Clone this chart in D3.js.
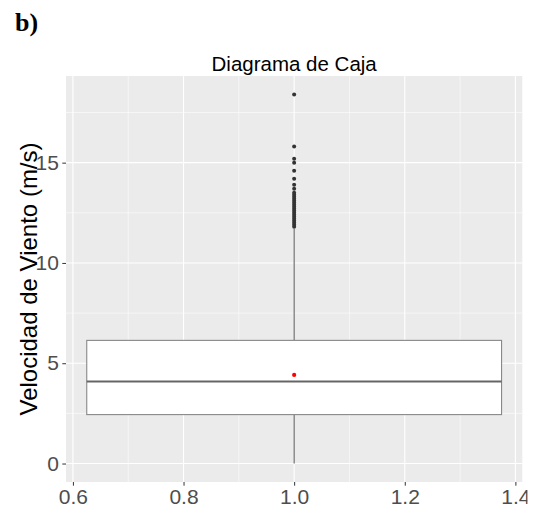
<!DOCTYPE html>
<html><head><meta charset="utf-8">
<script src="https://cdn.jsdelivr.net/npm/d3@7"></script>
<style>body{margin:0;background:#fff}svg{display:block}</style>
</head><body>
<script>
// Data
const stats = {q1: 2.44, median: 4.09, q3: 6.14, whiskerLow: 0.0, whiskerHigh: 11.7, mean: 4.42};
const outliers = [18.4, 15.8, 15.2, 15.0, 14.6, 14.2, 13.9, 13.7, 13.5, 13.4, 13.3, 13.2, 13.1, 13.0, 12.9, 12.8, 12.7, 12.6, 12.5, 12.4, 12.3, 12.2, 12.1, 12.0, 11.9, 11.8];
const xCenter = 1.0, boxWidth = 0.75;
const xTicks = [0.6, 0.8, 1.0, 1.2, 1.4];
const xMinor = [0.7, 0.9, 1.1, 1.3];
const yTicks = [0, 5, 10, 15];
const yMinor = [2.5, 7.5, 12.5, 17.5];
const titleText = "Diagrama de Caja";
const yLabel = "Velocidad de Viento (m/s)";
const panelLabel = "b)";

const W = 539, H = 508;
const P = {left: 66, right: 522.3, top: 76, bottom: 482};
const svg = d3.select("body").append("svg").attr("width", W).attr("height", H);

const xlo = xCenter - boxWidth/2, xhi = xCenter + boxWidth/2;
const xpad = (xhi - xlo) * 0.05;
const x = d3.scaleLinear().domain([xlo - xpad, xhi + xpad]).range([P.left, P.right]);
const ymax = d3.max(outliers), ymin = stats.whiskerLow;
const ypad = (ymax - ymin) * 0.05;
const y = d3.scaleLinear().domain([ymin - ypad, ymax + ypad]).range([P.bottom, P.top]);

// Panel
svg.append("rect").attr("x", P.left).attr("y", P.top)
  .attr("width", P.right - P.left).attr("height", P.bottom - P.top).attr("fill", "#EBEBEB");
const g = svg.append("g");
g.selectAll(".xm").data(xMinor).join("line")
  .attr("x1", d => x(d)).attr("x2", d => x(d)).attr("y1", P.top).attr("y2", P.bottom)
  .attr("stroke", "#fff").attr("stroke-width", 0.55);
g.selectAll(".ym").data(yMinor).join("line")
  .attr("y1", d => y(d)).attr("y2", d => y(d)).attr("x1", P.left).attr("x2", P.right)
  .attr("stroke", "#fff").attr("stroke-width", 0.55);
g.selectAll(".xM").data(xTicks).join("line")
  .attr("x1", d => x(d)).attr("x2", d => x(d)).attr("y1", P.top).attr("y2", P.bottom)
  .attr("stroke", "#fff").attr("stroke-width", 1.1);
g.selectAll(".yM").data(yTicks).join("line")
  .attr("y1", d => y(d)).attr("y2", d => y(d)).attr("x1", P.left).attr("x2", P.right)
  .attr("stroke", "#fff").attr("stroke-width", 1.1);

// Whiskers
g.append("line").attr("x1", x(xCenter)).attr("x2", x(xCenter))
  .attr("y1", y(stats.q3)).attr("y2", y(stats.whiskerHigh)).attr("stroke", "#555").attr("stroke-width", 1);
g.append("line").attr("x1", x(xCenter)).attr("x2", x(xCenter))
  .attr("y1", y(stats.q1)).attr("y2", y(stats.whiskerLow)).attr("stroke", "#555").attr("stroke-width", 1);
// Box
g.append("rect").attr("x", x(xlo)).attr("y", y(stats.q3))
  .attr("width", x(xhi) - x(xlo)).attr("height", y(stats.q1) - y(stats.q3))
  .attr("fill", "#fff").attr("stroke", "#888").attr("stroke-width", 1.1);
g.append("line").attr("x1", x(xlo)).attr("x2", x(xhi))
  .attr("y1", y(stats.median)).attr("y2", y(stats.median)).attr("stroke", "#666").attr("stroke-width", 2);
// Outliers
g.selectAll(".out").data(outliers).join("circle")
  .attr("cx", x(xCenter)).attr("cy", d => y(d)).attr("r", 2).attr("fill", "#333");
// Mean
g.append("circle").attr("cx", x(xCenter)).attr("cy", y(stats.mean)).attr("r", 2.1).attr("fill", "#ff0000");

// Axes
const font = "'Liberation Sans', Arial, sans-serif";
const xAxis = svg.append("g").attr("transform", `translate(0,${P.bottom})`)
  .call(d3.axisBottom(x).tickValues(xTicks).tickFormat(d3.format(".1f")).tickSize(3.7).tickPadding(3.5));
const yAxis = svg.append("g").attr("transform", `translate(${P.left},0)`)
  .call(d3.axisLeft(y).tickValues(yTicks).tickFormat(d3.format("d")).tickSize(3.7).tickPadding(3.5));
[xAxis, yAxis].forEach(a => {
  a.select(".domain").remove();
  a.selectAll(".tick line").attr("stroke", "#333").attr("stroke-width", 1);
  a.selectAll(".tick text").attr("fill", "#4d4d4d").style("font-family", font).style("font-size", "21px");
});

// Clip right edge like the reference
svg.append("rect").attr("x", 527.5).attr("y", P.bottom + 1).attr("width", W - 527.5).attr("height", H - P.bottom)
  .attr("fill", "#fff");

// Title
svg.append("text").attr("x", (P.left + P.right) / 2).attr("y", 70.5).attr("text-anchor", "middle")
  .style("font-family", font).style("font-size", "20.5px").attr("fill", "#000").text(titleText);
// Y label
svg.append("text").attr("transform", `translate(37,${(P.top + P.bottom) / 2}) rotate(-90)`)
  .attr("text-anchor", "middle").style("font-family", font).style("font-size", "24px")
  .attr("fill", "#000").text(yLabel);
// Panel label
svg.append("text").attr("x", 15).attr("y", 31).style("font-family", "'Liberation Serif', 'Times New Roman', serif")
  .style("font-size", "26px").style("font-weight", "bold").attr("fill", "#000").text(panelLabel);
</script>
</body></html>
